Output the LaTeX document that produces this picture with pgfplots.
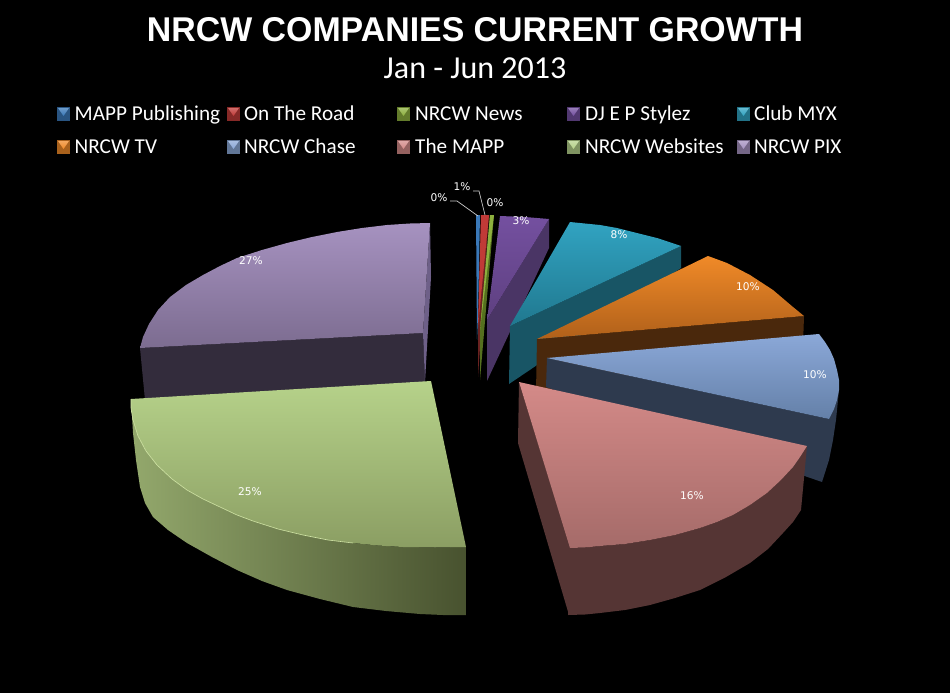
\documentclass[border=0pt]{standalone}
\usepackage{fontspec}
\usepackage{graphicx}
\usepackage{pgfplots}
\pgfplotsset{compat=1.18}
\setmainfont{Carlito}
\newfontfamily\titlefont{Liberation Sans}[BoldFont=Liberation Sans Bold]
\newfontfamily\pctfont{DejaVu Sans}

\definecolor{bluetop}{HTML}{3A78B8}
\definecolor{redtop}{HTML}{C03A37}
\definecolor{redside}{HTML}{6A2220}
\definecolor{greentop}{HTML}{8DB03E}
\definecolor{greenside}{HTML}{55701F}
\definecolor{djtopa}{HTML}{7450A0}
\definecolor{djtopb}{HTML}{5E4080}
\definecolor{djside}{HTML}{4A3565}
\definecolor{tealtopa}{HTML}{31A3C1}
\definecolor{tealtopb}{HTML}{20788F}
\definecolor{tealside}{HTML}{185565}
\definecolor{orangea}{HTML}{F08A28}
\definecolor{orangeb}{HTML}{B0601A}
\definecolor{orangeside}{HTML}{4A280C}
\definecolor{chasea}{HTML}{8BA8D8}
\definecolor{chaseb}{HTML}{6480A8}
\definecolor{chaseside}{HTML}{2E3A4E}
\definecolor{mappa}{HTML}{D48A88}
\definecolor{mappb}{HTML}{A56B69}
\definecolor{mappl}{HTML}{553534}
\definecolor{mappm}{HTML}{422A29}
\definecolor{websa}{HTML}{B6D28A}
\definecolor{websb}{HTML}{8B9E63}
\definecolor{websl}{HTML}{93A86C}
\definecolor{websr}{HTML}{48522F}
\definecolor{websrim}{HTML}{D2E6A6}
\definecolor{pixa}{HTML}{A692C0}
\definecolor{pixb}{HTML}{7C6C90}
\definecolor{pixside}{HTML}{332C3C}
\definecolor{pixthin}{HTML}{6E6088}

\tikzset{
  pct/.style={text=white,font=\pctfont\fontsize{10.6}{12}\selectfont,inner sep=0pt},
  leg/.style={text=white,anchor=base west,inner sep=0pt,font=\fontsize{21.2}{24}\selectfont},
}

\begin{document}
\begin{tikzpicture}
\begin{axis}[
  scale only axis,
  width=950pt,
  height=693pt,
  xmin=0, xmax=950,
  ymin=0, ymax=693,
  y dir=reverse,
  axis lines=none,
  ticks=none,
  clip=true,
]
% background
\addplot[fill=black,draw=none] coordinates {(0,0) (950,0) (950,693) (0,693)} --cycle;

% NRCW PIX
\addplot[fill=pixside,draw=none] coordinates {(140,348) (423,333) (425,382) (145,400)} --cycle;
\addplot[fill=pixthin,draw=none] coordinates {(430,223) (431,277) (425,382) (423,333)} --cycle;
\addplot[top color=pixa,bottom color=pixb,draw=none] coordinates {
  (430,223) (410,223.5) (387,225) (362,228) (337,232) (312,237) (287,243) (262,250) (237,258)
  (220,266) (203,275) (186,285) (170,297) (158,310) (149,324) (143,337) (140,348) (423,333)} --cycle;

% MAPP Publishing, On The Road, NRCW News
\addplot[fill=bluetop,draw=none] coordinates {(476,215) (480,215) (478,317) (477,340)} --cycle;
\addplot[fill=redside,draw=none] coordinates {(481,215) (478,327) (478,377) (489,215)} --cycle;
\addplot[fill=redtop,draw=none] coordinates {(481,215) (489,215) (478,327)} --cycle;
\addplot[fill=greenside,draw=none] coordinates {(490,215) (480,330) (480,380) (494,215)} --cycle;
\addplot[fill=greentop,draw=none] coordinates {(490,215) (494,215) (480,330)} --cycle;

% DJ E P Stylez
\addplot[fill=djside,draw=none] coordinates {(549,219) (549,248) (487,381) (487,320)} --cycle;
\addplot[top color=djtopa,bottom color=djtopb,draw=none] coordinates {(500,216) (525,217) (549,219) (487,320)} --cycle;

% Club MYX
\addplot[fill=tealside,draw=none] coordinates {(510,326) (681,246) (681,268) (509,384)} --cycle;
\addplot[top color=tealtopa,bottom color=tealtopb,draw=none] coordinates {
  (570,222) (585,223.5) (600,225) (617,228) (633,232) (657,238) (681,246) (510,326)} --cycle;

% NRCW TV
\addplot[fill=orangeside,draw=none] coordinates {(537,339) (804,316) (803,345) (536,392)} --cycle;
\addplot[top color=orangea,bottom color=orangeb,draw=none] coordinates {
  (708,256) (727,263) (750,275) (773,290) (793,307) (804,316) (537,339)} --cycle;

% NRCW Chase
\addplot[fill=chaseside,draw=none] coordinates {(547,358) (829,419) (839,390) (836,420) (833,440) (829,460) (822,482) (546,387)} --cycle;
\addplot[top color=chasea,bottom color=chaseb,draw=none] coordinates {
  (547,358) (819,334) (825,342) (830,350) (834,359) (837,370) (839,380) (839,390) (837,400) (834,409) (829,419)} --cycle;

% The MAPP
\addplot[fill=mappl,draw=none] coordinates {(519,382) (571,548) (569,615) (518,443)} --cycle;
\addplot[left color=mappl,middle color=mappm,right color=mappl,draw=none] coordinates {
  (570,548) (585,547.5) (600,546) (625,544) (650,540) (675,535) (700,528) (717,522) (733,515) (750,505)
  (767,493) (781,480) (793,467) (800,457) (807,446)
  (801,510) (793,522) (783,533) (768,549) (750,563) (726,577) (700,590) (675,598) (650,605) (625,610)
  (600,613) (585,614.5) (568,615)} --cycle;
\addplot[top color=mappa,bottom color=mappb,draw=none] coordinates {
  (519,382) (807,446) (800,457) (793,467) (781,480) (767,493) (750,505) (733,515) (717,522) (700,528)
  (675,535) (650,540) (625,544) (600,546) (585,547.5) (570,548)} --cycle;

% NRCW Websites
\addplot[left color=websl,right color=websr,draw=none] coordinates {
  (131,399) (131,408) (133,420) (138,436) (146,451) (157,465) (172,479) (187,490) (203,499) (220,507)
  (237,515) (253,521) (278,529) (303,535) (328,540) (353,543) (378,545.5) (403,547) (435,547.5) (466,547)
  (466,615) (443,615) (420,614) (386,611) (353,607) (320,599) (287,590) (262,581) (237,570) (212,557)
  (187,543) (168,530) (153,517) (145,503) (140,487) (136,460) (133,433)} --cycle;
\addplot[top color=websa,bottom color=websb,draw=none] coordinates {
  (431,381) (131,399) (131,408) (133,420) (138,436) (146,451) (157,465) (172,479) (187,490) (203,499) (220,507)
  (237,515) (253,521) (278,529) (303,535) (328,540) (353,543) (378,545.5) (403,547) (435,547.5) (466,547)} --cycle;
\addplot[draw=websrim,line width=0.6pt] coordinates {
  (131,399) (131,408) (133,420) (138,436) (146,451) (157,465) (172,479) (187,490) (203,499) (220,507)
  (237,515) (253,521) (278,529) (303,535) (328,540) (353,543)};

% leader lines
\addplot[draw=white!80!black,line width=0.7pt] coordinates {(450,201) (457,201) (478,216)};
\addplot[draw=white!80!black,line width=0.7pt] coordinates {(473,191) (479,191) (485,215)};

% percent labels
\node[pct] at (axis cs:439,198) {0\%};
\node[pct] at (axis cs:462,187) {1\%};
\node[pct] at (axis cs:495,203) {0\%};
\node[pct] at (axis cs:521,221) {3\%};
\node[pct] at (axis cs:619,235) {8\%};
\node[pct] at (axis cs:748,287) {10\%};
\node[pct] at (axis cs:815,375) {10\%};
\node[pct] at (axis cs:692,496) {16\%};
\node[pct] at (axis cs:250,492) {25\%};
\node[pct] at (axis cs:251,261) {27\%};

% title
\node[text=white,inner sep=0pt] at (axis cs:475,30) {\resizebox{656pt}{24pt}{\titlefont\bfseries NRCW COMPANIES CURRENT GROWTH}};
\node[text=white,inner sep=0pt,font=\fontsize{32}{36}\selectfont] at (axis cs:475,68) {Jan - Jun 2013};

% legend keys: dark box with a lighter wedge on top
\addplot[fill=bluetop!70!black,draw=none] coordinates {(57,107) (70,107) (70,121) (57,121)} --cycle;
\addplot[top color=bluetop!75!white,bottom color=bluetop,draw=none] coordinates {(58,108) (69,108) (63.5,116)} --cycle;
\addplot[fill=redtop!70!black,draw=none] coordinates {(227,107) (240,107) (240,121) (227,121)} --cycle;
\addplot[top color=redtop!75!white,bottom color=redtop,draw=none] coordinates {(228,108) (239,108) (233.5,116)} --cycle;
\addplot[fill=greentop!70!black,draw=none] coordinates {(397,107) (410,107) (410,121) (397,121)} --cycle;
\addplot[top color=greentop!75!white,bottom color=greentop,draw=none] coordinates {(398,108) (409,108) (403.5,116)} --cycle;
\addplot[fill=djtopa!70!black,draw=none] coordinates {(567,107) (580,107) (580,121) (567,121)} --cycle;
\addplot[top color=djtopa!75!white,bottom color=djtopa,draw=none] coordinates {(568,108) (579,108) (573.5,116)} --cycle;
\addplot[fill=tealtopa!70!black,draw=none] coordinates {(737,107) (750,107) (750,121) (737,121)} --cycle;
\addplot[top color=tealtopa!75!white,bottom color=tealtopa,draw=none] coordinates {(738,108) (749,108) (743.5,116)} --cycle;
\addplot[fill=orangea!70!black,draw=none] coordinates {(57,140) (70,140) (70,154) (57,154)} --cycle;
\addplot[top color=orangea!75!white,bottom color=orangea,draw=none] coordinates {(58,141) (69,141) (63.5,149)} --cycle;
\addplot[fill=chasea!70!black,draw=none] coordinates {(227,140) (240,140) (240,154) (227,154)} --cycle;
\addplot[top color=chasea!75!white,bottom color=chasea,draw=none] coordinates {(228,141) (239,141) (233.5,149)} --cycle;
\addplot[fill=mappa!70!black,draw=none] coordinates {(397,140) (410,140) (410,154) (397,154)} --cycle;
\addplot[top color=mappa!75!white,bottom color=mappa,draw=none] coordinates {(398,141) (409,141) (403.5,149)} --cycle;
\addplot[fill=websa!70!black,draw=none] coordinates {(567,140) (580,140) (580,154) (567,154)} --cycle;
\addplot[top color=websa!75!white,bottom color=websa,draw=none] coordinates {(568,141) (579,141) (573.5,149)} --cycle;
\addplot[fill=pixa!70!black,draw=none] coordinates {(737,140) (750,140) (750,154) (737,154)} --cycle;
\addplot[top color=pixa!75!white,bottom color=pixa,draw=none] coordinates {(738,141) (749,141) (743.5,149)} --cycle;

% legend text
\node[leg] at (axis cs:74.5,120) {MAPP Publishing};
\node[leg] at (axis cs:244,120) {On The Road};
\node[leg] at (axis cs:415,120) {NRCW News};
\node[leg] at (axis cs:585,120) {DJ E P Stylez};
\node[leg] at (axis cs:754,120) {Club MYX};
\node[leg] at (axis cs:74.5,153) {NRCW TV};
\node[leg] at (axis cs:244,153) {NRCW Chase};
\node[leg] at (axis cs:415,153) {The MAPP};
\node[leg] at (axis cs:585,153) {NRCW Websites};
\node[leg] at (axis cs:754,153) {NRCW PIX};
\end{axis}
\end{tikzpicture}
\end{document}
